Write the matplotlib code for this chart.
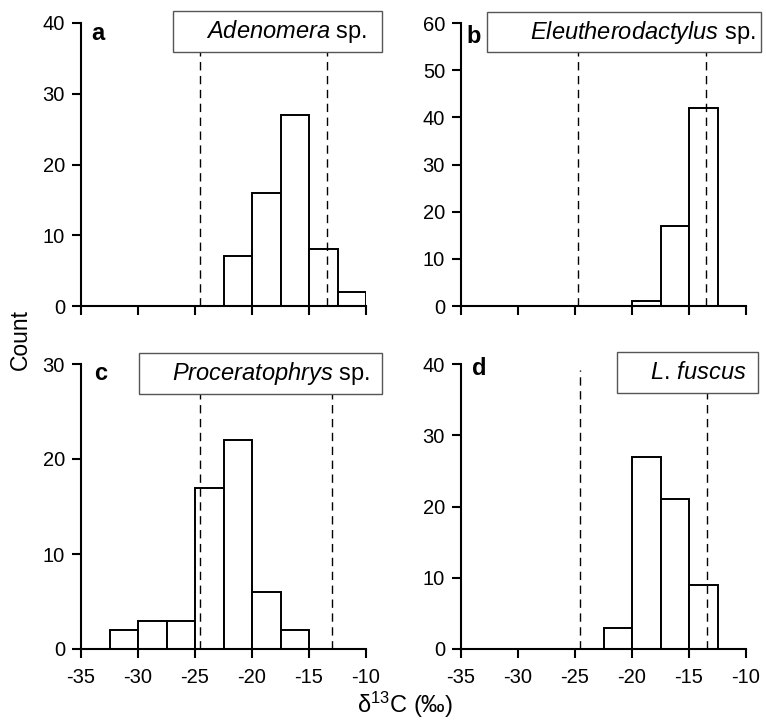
import numpy as np
import matplotlib
matplotlib.use('Agg')
import matplotlib.pyplot as plt
from matplotlib.patches import Rectangle

# DATA

bin_edges = [-35, -32.5, -30, -27.5, -25, -22.5, -20, -17.5, -15, -12.5, -10]
counts_a = [0, 0, 0, 0, 0, 7, 16, 27, 8, 2]
counts_b = [0, 0, 0, 0, 0, 0, 1, 17, 42, 0]
counts_c = [0, 2, 3, 3, 17, 22, 6, 2, 0, 0]
counts_d = [0, 0, 0, 0, 0, 3, 27, 21, 9, 0]
limits_a = [-24.6, -13.45]
limits_b = [-24.7, -13.5]
limits_c = [-24.6, -13.0]
limits_d = [-24.6, -13.4]
letters = ['a', 'b', 'c', 'd']
species = [r'$\mathit{Adenomera}$ sp.', r'$\mathit{Eleutherodactylus}$ sp.',
           r'$\mathit{Proceratophrys}$ sp.', r'$\mathit{L.\,fuscus}$']
y_max = [40, 60, 30, 40]
x_ticks = [-35, -30, -25, -20, -15, -10]

# STYLE

plt.rcParams['font.family'] = ['Liberation Sans', 'DejaVu Sans']
plt.rcParams['mathtext.fontset'] = 'custom'
plt.rcParams['mathtext.rm'] = 'Liberation Sans'
plt.rcParams['mathtext.it'] = 'Liberation Sans:italic'

W, H = 766, 720
fig = plt.figure(figsize=(W / 100, H / 100), dpi=100)

# panel layout in pixels: left, top, right, bottom
axes_px = [(81, 23, 366, 306), (461, 23, 746, 306),
           (81, 364, 366, 649), (461, 364, 746, 649)]
# label box in pixels: left, top, right, bottom, text right edge
box_px = [(173, 11, 382, 52, 367), (487, 12, 761, 52, 756),
          (139, 353, 382, 394, 370), (617, 352, 758, 393, 747)]
letter_px = [(91, 40), (466, 43), (94, 380), (472, 375)]

all_counts = [counts_a, counts_b, counts_c, counts_d]
all_limits = [limits_a, limits_b, limits_c, limits_d]

edges = np.array(bin_edges)
widths = np.diff(edges)

for i in range(4):
    l, t, r, b = axes_px[i]
    ax = fig.add_axes([l / W, 1 - b / H, (r - l) / W, (b - t) / H])
    ax.bar(edges[:-1], all_counts[i], width=widths, align='edge',
           facecolor='white', edgecolor='black', linewidth=1.4, zorder=2)
    for xv in all_limits[i]:
        ax.axvline(xv, ymin=0, ymax=0.98, color='black', linestyle=(0, (6, 4)),
                   linewidth=1.0, zorder=3)
    ax.set_xlim(-35, -10)
    ax.set_ylim(0, y_max[i])
    ax.set_xticks(x_ticks)
    ax.set_yticks(np.arange(0, y_max[i] + 1, 10))
    for s in ['top', 'right']:
        ax.spines[s].set_visible(False)
    for s in ['left', 'bottom']:
        ax.spines[s].set_linewidth(1.5)
    ax.tick_params(direction='out', length=6.5, width=1.5, labelsize=14.5)
    ax.tick_params(axis='y', pad=5)
    ax.tick_params(axis='x', pad=7)
    if i < 2:
        ax.set_xticklabels([])
    else:
        ax.set_xticklabels([str(v) for v in x_ticks])

    # label box
    bl, bt, br, bb, tr = box_px[i]
    fig.add_artist(Rectangle((bl / W, 1 - bb / H), (br - bl) / W, (bb - bt) / H,
                             transform=fig.transFigure, facecolor='white',
                             edgecolor='#555555', linewidth=1.0, zorder=5))
    fig.text(tr / W, 1 - (bt + bb) / 2 / H, species[i], ha='right', va='center',
             fontsize=17, zorder=6)
    lx, ly = letter_px[i]
    fig.text(lx / W, 1 - ly / H, letters[i], ha='left', va='baseline',
             fontsize=17, fontweight='bold', zorder=6)

fig.text(20 / W, 1 - 340 / H, 'Count', rotation=90, ha='center', va='center',
         fontsize=16.5)
fig.text(405 / W, 1 - 705 / H, 'δ$^{13}$C (‰)', ha='center', va='center',
         fontsize=17)

fig.savefig('out.png', dpi=100)
